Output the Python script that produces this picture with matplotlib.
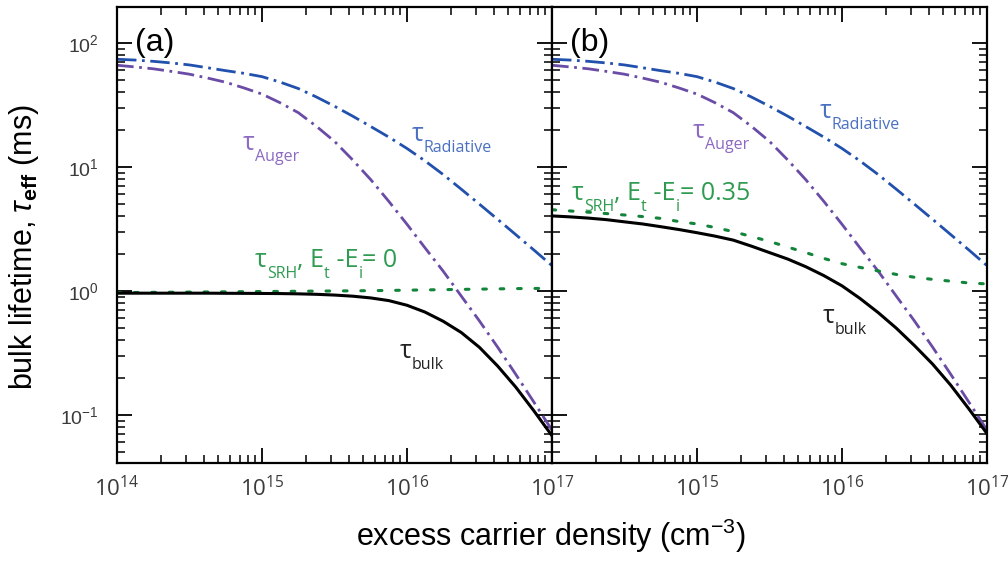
import matplotlib
matplotlib.use("Agg")
import matplotlib.pyplot as plt
from matplotlib.transforms import offset_copy

plt.rcParams["font.family"] = ["Liberation Sans", "DejaVu Sans"]
plt.rcParams["mathtext.fontset"] = "custom"
plt.rcParams["mathtext.rm"] = "Open Sans"
plt.rcParams["mathtext.it"] = "Liberation Sans:italic"
plt.rcParams["mathtext.bf"] = "Liberation Sans:bold"

# excess carrier density (cm^-3), eighth-decade steps from 1e14 to 1e17
density = [1.00e14, 1.33e14, 1.78e14, 2.37e14, 3.16e14, 4.22e14, 5.62e14, 7.50e14,
           1.00e15, 1.33e15, 1.78e15, 2.37e15, 3.16e15, 4.22e15, 5.62e15, 7.50e15,
           1.00e16, 1.33e16, 1.78e16, 2.37e16, 3.16e16, 4.22e16, 5.62e16, 7.50e16,
           1.00e17]

# lifetimes in ms; radiative and Auger are the same in both panels
tau_rad = [73.9, 72.8, 71.1, 69.0, 66.5, 63.1, 59.8, 56.9,
           53.5, 48.4, 42.9, 36.7, 30.9, 25.7, 21.2, 17.4,
           14.1, 11.2, 8.67, 6.61, 5.01, 3.78, 2.85, 2.14,
           1.60]
tau_auger = [66.1, 64.1, 61.9, 59.0, 56.0, 52.1, 48.2, 43.4,
             38.7, 33.0, 27.4, 21.3, 16.1, 11.4, 7.91, 5.27,
             3.45, 2.23, 1.44, 0.908, 0.573, 0.352, 0.213, 0.127,
             0.0755]

# panel (a): Et - Ei = 0
tau_srh_a = [0.97, 0.972, 0.975, 0.977, 0.98, 0.982, 0.985, 0.988,
             0.99, 0.992, 0.995, 0.998, 1.0, 1.003, 1.006, 1.01,
             1.015, 1.02, 1.025, 1.03, 1.035, 1.04, 1.045, 1.048,
             1.05]
tau_bulk_a = [0.96, 0.96, 0.96, 0.96, 0.96, 0.96, 0.958, 0.957,
              0.955, 0.953, 0.948, 0.940, 0.927, 0.908, 0.879, 0.836,
              0.767, 0.676, 0.569, 0.462, 0.351, 0.248, 0.168, 0.108,
              0.068]

# panel (b): Et - Ei = 0.35
tau_srh_b = [4.52, 4.42, 4.32, 4.21, 4.10, 3.98, 3.85, 3.63,
             3.47, 3.25, 3.01, 2.75, 2.51, 2.26, 2.04, 1.83,
             1.66, 1.55, 1.45, 1.36, 1.29, 1.24, 1.20, 1.16,
             1.14]
tau_bulk_b = [4.03, 3.96, 3.87, 3.76, 3.61, 3.47, 3.30, 3.13,
              2.95, 2.77, 2.57, 2.30, 2.04, 1.81, 1.57, 1.33,
              1.10, 0.871, 0.668, 0.501, 0.363, 0.257, 0.174, 0.112,
              0.0708]

panel_tags = ["(a)", "(b)"]
srh_tails = ["0", "0.35"]
xtick_vals = [1e14, 1e15, 1e16, 1e17]
xtick_text = [r"$10^{14}$", r"$10^{15}$", r"$10^{16}$", r"$10^{17}$"]

c_rad, c_rad_txt = "#2150ad", "#4a70c2"
c_aug, c_aug_txt = "#6a4ca6", "#8c6ac2"
c_srh, c_srh_txt = "#13853b", "#2e9b50"

fig = plt.figure(figsize=(10.08, 5.66), dpi=100)
W, H = 1008, 566
ax1 = fig.add_axes([117 / W, 1 - 463 / H, 435 / W, 456 / H])
ax2 = fig.add_axes([552 / W, 1 - 463 / H, 435 / W, 456 / H], sharey=ax1)
renderer = fig.canvas.get_renderer()

MAIN, SUB, DROP = 18, 11.5, 8


def sub_label(ax, x, y, parts, color):
    """Write text pieces left to right; pieces flagged True sit as subscripts."""
    dx = 0.0
    for txt, is_sub in parts:
        tr = offset_copy(ax.transAxes, fig=fig, x=dx, y=-DROP if is_sub else 0, units="points")
        t = ax.text(x, y, txt, transform=tr, color=color, family="Open Sans",
                    fontsize=SUB if is_sub else MAIN, ha="left", va="baseline")
        dx += t.get_window_extent(renderer).width * 72 / fig.dpi


# label anchors in axes fraction: auger, radiative, srh, bulk
anchors = [
    {"aug": (0.290, 0.686), "rad": (0.678, 0.706), "srh": (0.317, 0.430), "bulk": (0.651, 0.230)},
    {"aug": (0.324, 0.713), "rad": (0.616, 0.757), "srh": (0.046, 0.577), "bulk": (0.623, 0.307)},
]

for i, (ax, srh, bulk) in enumerate([(ax1, tau_srh_a, tau_bulk_a), (ax2, tau_srh_b, tau_bulk_b)]):
    ax.plot(density, tau_rad, color=c_rad, lw=2.0, dashes=(7, 2, 1, 2))
    ax.plot(density, tau_auger, color=c_aug, lw=2.0, dashes=(6, 2, 1, 2))
    ax.plot(density, srh, color=c_srh, lw=2.2, dashes=(1.2, 4.5), dash_capstyle="round")
    ax.plot(density, bulk, color="black", lw=2.2)

    ax.set_xscale("log")
    ax.set_yscale("log")
    ax.set_xlim(1e14, 1e17)
    ax.set_ylim(0.041, 195)

    ax.tick_params(which="both", direction="in", top=True, right=True, colors="black",
                   labelcolor="#3a3a3a")
    ax.tick_params(which="major", length=11, width=1.3)
    ax.tick_params(which="minor", length=6, width=1.1)
    ax.tick_params(axis="x", labelsize=16, pad=9)
    ax.tick_params(axis="y", labelsize=14, pad=13)
    for s in ax.spines.values():
        s.set_linewidth(1.6)

    ax.set_xticks(xtick_vals)
    labels = list(xtick_text)
    if i == 1:
        labels[0] = ""
    ax.set_xticklabels(labels)

    ax.text(0.041, 0.921, panel_tags[i], transform=ax.transAxes, fontsize=23,
            ha="left", va="center")

    a = anchors[i]
    sub_label(ax, *a["aug"], [("τ", False), ("Auger", True)], c_aug_txt)
    sub_label(ax, *a["rad"], [("τ", False), ("Radiative", True)], c_rad_txt)
    sub_label(ax, *a["srh"], [("τ", False), ("SRH", True), (", E", False), ("t", True),
                              (" -E", False), ("i", True), ("= " + srh_tails[i], False)],
              c_srh_txt)
    sub_label(ax, *a["bulk"], [("τ", False), ("bulk", True)], "#222222")

ax2.tick_params(labelleft=False)

fig.text(24 / W, 1 - 247 / H, r"bulk lifetime, $\tau_{\mathbf{eff}}$ (ms)",
         rotation=90, ha="center", va="center", fontsize=22)
fig.text(551 / W, 1 - 536 / H, r"excess carrier density (cm$^{\mathregular{-3}}$)",
         ha="center", va="center", fontsize=22)

fig.savefig("out.png", dpi=100)
